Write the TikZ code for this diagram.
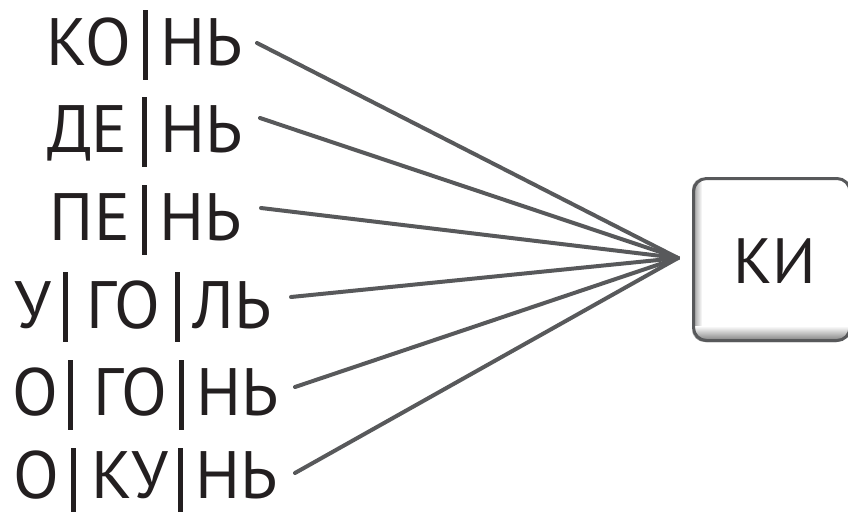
\documentclass[tikz,border=0pt]{standalone}
\usepackage{fontspec}
\setmainfont{PT Sans}
\definecolor{txt}{HTML}{231F20}
\definecolor{ln}{HTML}{58595B}
\begin{document}
\begin{tikzpicture}[x=1pt,y=-1pt,
  syl/.style={inner sep=0pt,text=txt,font=\fontsize{67}{67}\selectfont,anchor=base},
  conn/.style={draw=ln,line width=4pt,line cap=round},
  bar/.style={draw=txt,line width=5pt}]
\useasboundingbox (0,0) rectangle (848,514);
% row 1
\node[syl] (a1) at (89,65) {КО};
\node[syl] (b1) at (201.5,65) {НЬ};
\draw[bar] (145,10) -- (145,80);
% row 2
\node[syl] (a2) at (87.5,152) {ДЕ};
\node[syl] (b2) at (201.5,152) {НЬ};
\draw[bar] (144,97) -- (144,167);
% row 3
\node[syl] (a3) at (90,240) {ПЕ};
\node[syl] (b3) at (201,240) {НЬ};
\draw[bar] (144,185) -- (144,255);
% row 4
\node[syl] (a4) at (33.5,328) {У};
\node[syl] (b4) at (123,328) {ГО};
\node[syl] (c4) at (232,328) {ЛЬ};
\draw[bar] (65,272) -- (65,342);
\draw[bar] (177,272) -- (177,342);
% row 5
\node[syl] (a5) at (35,415) {О};
\node[syl] (b5) at (130,415) {ГО};
\node[syl] (c5) at (237.5,415) {НЬ};
\draw[bar] (70,360) -- (70,430);
\draw[bar] (181,360) -- (181,430);
% row 6
\node[syl] (a6) at (36.5,498) {О};
\node[syl] (b6) at (130,498) {КУ};
\node[syl] (c6) at (236.5,498) {НЬ};
\draw[bar] (73,448) -- (73,512);
\draw[bar] (180,448) -- (180,512);
% target box
\coordinate (m) at (678,258);
\begin{scope}
\clip[rounded corners=13pt] (692,177) rectangle (849,342);
\fill[white] (692,177) rectangle (849,342);
\shade[left color=black!45,right color=white] (692,177) rectangle (702,342);
\shade[top color=white,bottom color=black!55] (692,326) rectangle (849,342);
\end{scope}
\draw[ln,line width=3pt,rounded corners=13pt] (693.5,178.5) rectangle (850,340.5);
\node[inner sep=0pt,text=txt,font=\fontsize{64}{64}\selectfont,anchor=base] (k) at (775,283) {КИ};
% connectors
\coordinate (s1) at (257,43);
\coordinate (s2) at (260,118);
\coordinate (s3) at (261,208);
\coordinate (s4) at (291,297);
\coordinate (s5) at (295,387);
\coordinate (s6) at (295,473);
\foreach \i in {1,...,6} \draw[conn] (s\i) -- (m);
\end{tikzpicture}
\end{document}
